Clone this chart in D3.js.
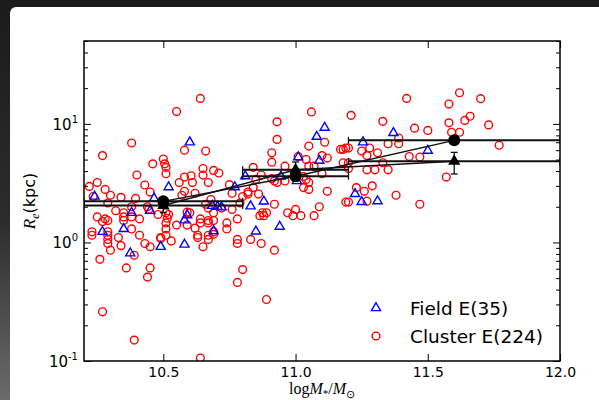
<!DOCTYPE html>
<html>
<head>
<meta charset="utf-8">
<script src="https://cdn.jsdelivr.net/npm/d3@7"></script>
<style>
  body { margin: 0; background: #222; }
  svg { display: block; }
</style>
</head>
<body>
<div id="graphWrapper"></div>
<script>
// R_e vs stellar mass, field vs cluster ellipticals

// [log M*/Msun, Re (kpc)]
var clusterPoints = [
  [10.22, 2.97], [10.235, 2.44], [10.25, 3.2], [10.27, 5.4], [10.28, 2.8], [10.30, 2.5],
  [10.29, 2.15], [10.25, 1.64], [10.28, 1.58], [10.29, 1.53], [10.23, 1.23], [10.23, 1.15],
  [10.29, 1.23], [10.29, 1.15], [10.29, 1.06], [10.29, 0.98], [10.30, 0.86], [10.26, 0.72],
  [10.27, 0.26], [10.32, 1.85], [10.33, 1.1], [10.35, 1.78], [10.35, 1.64], [10.35, 1.53],
  [10.34, 0.94], [10.27, 1.5], [10.34, 2.4],
  [10.38, 6.9], [10.40, 3.7], [10.38, 2.0], [10.38, 1.64], [10.38, 1.3], [10.41, 1.58],
  [10.41, 1.15], [10.39, 0.78], [10.36, 0.61], [10.39, 0.15], [10.43, 3.05], [10.45, 2.66],
  [10.44, 2.0], [10.445, 1.9], [10.43, 0.98], [10.45, 0.92], [10.44, 0.51], [10.45, 0.61],
  [10.46, 4.6], [10.48, 1.72], [10.49, 1.1], [10.49, 1.08], [10.395, 2.35],
  [10.50, 5.05], [10.505, 4.6], [10.51, 4.3], [10.51, 3.8], [10.51, 1.78], [10.52, 1.72],
  [10.51, 1.46], [10.51, 1.3], [10.51, 1.15], [10.53, 1.03], [10.55, 12.7], [10.56, 3.2],
  [10.57, 2.5], [10.55, 1.4], [10.58, 6.0], [10.58, 3.56], [10.605, 3.65], [10.61, 3.2],
  [10.59, 1.8], [10.60, 1.78], [10.59, 1.4], [10.62, 2.6], [10.62, 1.32], [10.63, 1.15],
  [10.63, 1.1], [10.64, 16.4], [10.65, 4.2], [10.65, 3.7], [10.66, 5.9], [10.67, 3.2],
  [10.64, 1.58], [10.64, 1.46], [10.65, 0.92], [10.66, 2.1], [10.67, 1.53], [10.67, 1.46],
  [10.67, 1.15], [10.67, 1.06], [10.64, 0.106], [10.58, 2.7], [10.515, 1.6],
  [10.69, 4.05], [10.71, 3.85], [10.68, 2.3], [10.67, 1.95], [10.69, 1.78], [10.69, 1.53],
  [10.69, 1.23], [10.74, 1.46], [10.74, 1.3], [10.75, 3.07], [10.76, 2.6], [10.72, 1.95],
  [10.76, 1.9], [10.78, 1.58], [10.78, 1.06], [10.78, 0.98], [10.79, 2.15], [10.78, 0.46],
  [10.80, 0.59], [10.69, 1.17],
  [10.80, 2.44], [10.82, 2.56], [10.82, 2.66], [10.84, 2.9], [10.84, 4.3], [10.85, 3.4],
  [10.86, 2.56], [10.87, 3.7], [10.83, 1.06], [10.87, 0.98], [10.865, 1.68], [10.875, 1.78],
  [10.88, 1.68], [10.89, 1.78], [10.89, 0.33], [10.91, 5.7], [10.91, 4.75], [10.92, 3.3],
  [10.92, 2.1], [10.92, 0.86], [10.93, 10.4], [10.93, 7.4], [10.93, 3.2], [10.91, 3.45],
  [10.96, 4.4], [10.96, 3.3], [10.97, 1.78], [11.00, 1.9], [10.99, 1.68], [11.02, 1.68],
  [11.05, 6.5], [11.06, 12.6], [11.04, 5.0], [11.03, 3.6], [11.04, 3.4], [11.05, 3.2],
  [11.03, 2.9], [11.05, 2.8], [11.05, 4.4], [11.07, 4.4], [11.09, 2.0], [11.07, 1.68],
  [11.12, 2.7], [11.10, 5.4], [11.12, 5.15], [11.11, 7.0], [11.10, 3.8], [11.01, 5.3],
  [11.17, 6.1], [11.18, 6.1], [11.19, 6.25], [11.20, 6.25], [11.18, 4.7], [11.20, 4.7],
  [11.20, 4.2], [11.19, 2.19], [11.20, 2.19], [11.21, 11.8], [11.23, 2.9],
  [11.25, 5.9], [11.27, 5.4], [11.28, 6.25], [11.27, 4.1], [11.30, 4.1], [11.27, 2.23],
  [11.26, 2.7], [11.29, 3.0], [11.33, 10.5], [11.31, 5.7], [11.33, 4.7], [11.35, 4.1],
  [11.35, 6.8], [11.38, 2.5],
  [11.39, 7.6], [11.39, 6.8], [11.42, 16.4], [11.43, 5.3], [11.45, 9.2], [11.47, 5.25],
  [11.47, 2.1], [11.50, 8.8], [11.57, 3.56], [11.58, 10.2], [11.58, 14.7], [11.59, 8.5],
  [11.62, 18.3], [11.62, 8.5], [11.64, 10.7], [11.66, 11.6], [11.70, 16.3], [11.73, 9.8],
  [11.77, 6.6]
]

var fieldPoints = [
  [10.24, 2.44], [10.27, 1.23], [10.35, 1.3], [10.38, 1.78], [10.375, 0.81], [10.465, 2.35],
  [10.45, 1.85], [10.49, 0.92], [10.52, 2.93], [10.60, 7.0], [10.58, 1.54], [10.58, 0.96],
  [10.59, 1.7], [10.69, 1.25], [10.685, 2.04], [10.705, 2.0], [10.72, 1.98], [10.77, 2.93],
  [10.81, 3.63], [10.83, 2.02], [10.85, 1.24], [10.88, 2.22], [10.94, 1.36], [10.945, 3.6],
  [11.005, 3.3], [11.01, 5.25], [11.08, 7.8], [11.11, 9.3], [11.09, 4.9], [11.225, 2.57],
  [11.25, 2.2], [11.255, 7.0], [11.31, 2.23], [11.37, 8.4], [11.50, 5.95]
]

// binned medians
var binCenter = [10.5, 11.0, 11.6]
var binHalf = [0.3, 0.2, 0.4]
var clusterMed = [2.22, 3.62, 7.26]
var clusterLo = [2.05, 3.3, 6.9]
var clusterHi = [2.4, 3.95, 7.6]
var fieldMed = [2.05, 4.1, 4.83]
var fieldLo = [1.78, 3.5, 3.78]
var fieldHi = [2.3, 4.77, 5.75]

var xTicks = [10.5, 11.0, 11.5, 12.0]
var yMajor = [0.1, 1, 10]
var yExp = ["-1", "0", "1"]
var legendLabels = ["Field E(35)", "Cluster E(224)"]

var W = 599, H = 400
var pLeft = 84, pRight = 560, pTop = 41, pBottom = 361

var x = d3.scaleLinear().domain([10.2, 12.0]).range([pLeft, pRight])
var y = d3.scaleLog().domain([0.1, 50]).range([pBottom, pTop])

var svg = d3.select("#graphWrapper").append("svg")
    .attr("width", W)
    .attr("height", H)

var defs = svg.append("defs")
var grad = defs.append("linearGradient").attr("id", "bg").attr("x1", 0).attr("y1", 0).attr("x2", 0).attr("y2", 1)
grad.append("stop").attr("offset", "0%").attr("stop-color", "#1b1b1b")
grad.append("stop").attr("offset", "55%").attr("stop-color", "#2c2c2c")
grad.append("stop").attr("offset", "100%").attr("stop-color", "#6b6b6b")
defs.append("clipPath").attr("id", "plotClip")
  .append("rect").attr("x", pLeft).attr("y", pTop).attr("width", pRight - pLeft).attr("height", pBottom - pTop)

svg.append("rect").attr("width", W).attr("height", H).attr("fill", "url(#bg)")
svg.append("rect")
    .attr("x", 10).attr("y", 7)
    .attr("width", 640).attr("height", 440)
    .attr("rx", 6)
    .attr("fill", "white")

var plot = svg.append("g").attr("clip-path", "url(#plotClip)")

// scatter
plot.selectAll(".cl")
    .data(clusterPoints)
  .enter().append("circle")
    .attr("cx", function(d) { return x(d[0]) })
    .attr("cy", function(d) { return y(d[1]) })
    .attr("r", 3.9)
    .attr("fill", "none")
    .attr("stroke", "#ff0000")
    .attr("stroke-width", 1.4)

var tri = d3.symbol().type(d3.symbolTriangle).size(36)
plot.selectAll(".fd")
    .data(fieldPoints)
  .enter().append("path")
    .attr("d", tri)
    .attr("transform", function(d) { return "translate(" + x(d[0]) + "," + y(d[1]) + ")" })
    .attr("fill", "none")
    .attr("stroke", "#0000ff")
    .attr("stroke-width", 1.4)

// error bars + median lines
var drawBins = function(med, lo, hi, marker) {
  binCenter.forEach(function(c, i) {
    var yy = y(med[i])
    var x0 = x(c - binHalf[i]), x1 = x(c + binHalf[i])
    plot.append("line").attr("x1", x0).attr("x2", x1).attr("y1", yy).attr("y2", yy)
        .attr("stroke", "#111").attr("stroke-width", 2)
    ;[x0, x1].forEach(function(xc) {
      plot.append("line").attr("x1", xc).attr("x2", xc).attr("y1", yy - 3.5).attr("y2", yy + 3.5)
          .attr("stroke", "#111").attr("stroke-width", 1.3)
    })
    var xc = x(c)
    plot.append("line").attr("x1", xc).attr("x2", xc).attr("y1", y(lo[i])).attr("y2", y(hi[i]))
        .attr("stroke", "#111").attr("stroke-width", 1.3)
    ;[lo[i], hi[i]].forEach(function(v) {
      plot.append("line").attr("x1", xc - 3.5).attr("x2", xc + 3.5).attr("y1", y(v)).attr("y2", y(v))
          .attr("stroke", "#111").attr("stroke-width", 1.3)
    })
  })
  var line = d3.line()
      .x(function(d, i) { return x(binCenter[i]) })
      .y(function(d) { return y(d) })
  plot.append("path").attr("d", line(med)).attr("fill", "none").attr("stroke", "#111").attr("stroke-width", 1.5)
  med.forEach(function(v, i) {
    if (marker == "circle") {
      plot.append("circle").attr("cx", x(binCenter[i])).attr("cy", y(v)).attr("r", 6).attr("fill", "black")
    } else {
      plot.append("path").attr("d", d3.symbol().type(d3.symbolTriangle).size(64))
          .attr("transform", "translate(" + x(binCenter[i]) + "," + y(v) + ")")
          .attr("fill", "black")
    }
  })
}
drawBins(fieldMed, fieldLo, fieldHi, "triangle")
drawBins(clusterMed, clusterLo, clusterHi, "circle")

// axes, ticks inside
var styleAxis = function(g) {
  g.select(".domain").remove()
  g.selectAll("line").attr("stroke", "black").attr("stroke-width", 1)
}
svg.append("g")
    .attr("transform", "translate(0," + pBottom + ")")
    .call(d3.axisBottom(x).tickValues(xTicks).tickSize(-7).tickPadding(6).tickFormat(d3.format(".1f")))
    .call(styleAxis)
    .selectAll("text")
      .attr("font-family", "DejaVu Sans")
      .attr("font-size", "14px")
      .attr("fill", "black")
svg.append("g")
    .attr("transform", "translate(0," + pTop + ")")
    .call(d3.axisTop(x).tickValues(xTicks).tickSize(-7).tickFormat(""))
    .call(styleAxis)

var yMinor = y.ticks().filter(function(v) { return yMajor.indexOf(v) < 0 })
;[[d3.axisLeft, pLeft], [d3.axisRight, pRight]].forEach(function(a) {
  svg.append("g").attr("transform", "translate(" + a[1] + ",0)")
      .call(a[0](y).tickValues(yMajor).tickSize(-7).tickFormat(""))
      .call(styleAxis)
  svg.append("g").attr("transform", "translate(" + a[1] + ",0)")
      .call(a[0](y).tickValues(yMinor).tickSize(-4).tickFormat(""))
      .call(styleAxis)
})

yMajor.forEach(function(v, i) {
  var t = svg.append("text")
      .attr("x", 78)
      .attr("y", y(v) + 6)
      .attr("text-anchor", "end")
      .attr("font-family", "DejaVu Sans")
      .attr("font-size", "15px")
      .attr("fill", "black")
  t.append("tspan").text("10")
  t.append("tspan").attr("dy", -7).attr("font-size", "10px").text(yExp[i])
})

svg.append("rect")
    .attr("x", pLeft).attr("y", pTop)
    .attr("width", pRight - pLeft).attr("height", pBottom - pTop)
    .attr("fill", "none")
    .attr("stroke", "black")
    .attr("stroke-width", 1.5)

// axis labels
var xl = svg.append("text")
    .attr("x", (pLeft + pRight) / 2)
    .attr("y", 394)
    .attr("text-anchor", "middle")
    .attr("font-family", "Liberation Serif")
    .attr("font-size", "16px")
    .attr("fill", "black")
xl.append("tspan").text("log")
xl.append("tspan").attr("font-style", "italic").text("M")
xl.append("tspan").attr("font-size", "11px").attr("dy", 3).text("*")
xl.append("tspan").attr("dy", -3).text("/")
xl.append("tspan").attr("font-style", "italic").text("M")
xl.append("tspan").attr("font-size", "11px").attr("dy", 4).text("⊙")

var yl = svg.append("text")
    .attr("transform", "translate(35,201) rotate(-90)")
    .attr("text-anchor", "middle")
    .attr("fill", "black")
yl.append("tspan").attr("font-family", "Liberation Serif").attr("font-style", "italic").attr("font-size", "17px").text("R")
yl.append("tspan").attr("font-family", "Liberation Serif").attr("font-style", "italic").attr("font-size", "12px").attr("dy", 4).text("e")
yl.append("tspan").attr("font-family", "DejaVu Sans").attr("font-size", "16px").attr("dy", -4).text("(kpc)")

// legend
var leg = svg.append("g")
leg.append("path").attr("d", tri)
    .attr("transform", "translate(376,308)")
    .attr("fill", "none").attr("stroke", "#0000ff").attr("stroke-width", 1.4)
leg.append("circle").attr("cx", 376).attr("cy", 336).attr("r", 3.9)
    .attr("fill", "none").attr("stroke", "#ff0000").attr("stroke-width", 1.4)
leg.selectAll("text")
    .data(legendLabels)
  .enter().append("text")
    .attr("x", 410)
    .attr("y", function(d, i) { return 315 + i * 28 })
    .attr("font-family", "DejaVu Sans")
    .attr("font-size", "18.5px")
    .attr("fill", "black")
    .text(function(d) { return d })
</script>
</body>
</html>
